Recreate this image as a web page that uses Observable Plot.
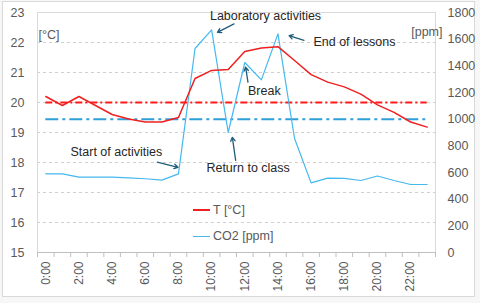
<!DOCTYPE html>
<html>
<head>
<meta charset="utf-8">
<script src="https://cdn.jsdelivr.net/npm/d3@7"></script>
<script src="https://cdn.jsdelivr.net/npm/@observablehq/plot@0.6"></script>
<style>
  html, body { margin: 0; padding: 0; background: #f7f7f7; }
  #wrap { position: relative; width: 480px; height: 303px; overflow: hidden; }
  #border { position: absolute; left: 2px; top: 1px; width: 473px; height: 296px; border: 1px solid #d9d9d9; background: #fff; box-sizing: border-box; }
  #chart { position: absolute; left: 0; top: 0; }
  .leg { position: absolute; font: 12.5px "Liberation Sans", Arial, sans-serif; color: #595959; display: flex; align-items: center; }
  .leg span.sw { display: inline-block; width: 17px; height: 0; margin-right: 3px; }
</style>
</head>
<body>
<div id="wrap">
  <div id="border"></div>
  <div id="chart"></div>
  <div class="leg" style="left:193px; top:203px;"><span class="sw" style="border-top:2px solid #f02020"></span>T [°C]</div>
  <div class="leg" style="left:193px; top:229px;"><span class="sw" style="border-top:1.5px solid #45b8ee"></span>CO2 [ppm]</div>
</div>
<script>
// Hours of the day (0:00 ... 23:00)
const hours = d3.range(0, 24);
// Temperature [°C]
const temperature = [20.2, 19.9, 20.2, 19.9, 19.6, 19.45, 19.35, 19.35, 19.5, 20.8, 21.07, 21.1, 21.7, 21.82, 21.86, 21.4, 20.93, 20.68, 20.52, 20.28, 19.92, 19.67, 19.35, 19.18];
// CO2 [ppm]
const co2 = [590, 590, 565, 566, 566, 560, 553, 543, 590, 1530, 1670, 900, 1425, 1295, 1640, 855, 522, 558, 556, 540, 574, 540, 510, 510];
// Thresholds
const tempLimit = 20;     // °C
const co2Limit = 1000;    // ppm
// Axis ticks
const tempTicks = [15, 16, 17, 18, 19, 20, 21, 22, 23];
const co2Ticks = [0, 200, 400, 600, 800, 1000, 1200, 1400, 1600, 1800];
const hourLabelTicks = d3.range(0, 24, 2);
const hourBoundaries = d3.range(-0.5, 24, 1);
// Annotations (hour, °C position)
const annoText = [
  {label: "Laboratory activities", h: 13.25, t: 22.9, anchor: "middle"},
  {label: "End of lessons", h: 16.14, t: 22.01, anchor: "start"},
  {label: "Break", h: 13.18, t: 20.38, anchor: "middle"},
  {label: "Start of activities", h: 1.49, t: 18.34, anchor: "start"},
  {label: "Return to class", h: 12.2, t: 17.81, anchor: "middle"}
];
const annoArrows = [
  {h1: 11.35, t1: 22.62, h2: 10.35, t2: 22.34},
  {h1: 15.57, t1: 22.07, h2: 14.67, t2: 22.23},
  {h1: 12.19, t1: 20.68, h2: 12.05, t2: 21.18},
  {h1: 6.72, t1: 18.01, h2: 7.97, t2: 17.84},
  {h1: 11.45, t1: 18.07, h2: 11.25, t2: 18.84}
];

// map CO2 ppm onto the temperature axis (0..1800 ppm <-> 15..23 °C)
const ppmToT = p => 15 + p * (23 - 15) / 1800;
const tToPpm = t => (t - 15) * 1800 / (23 - 15);

const tData = hours.map((h, i) => ({h, v: temperature[i]}));
const cData = hours.map((h, i) => ({h, v: ppmToT(co2[i])}));

const font = '"Liberation Sans", Arial, sans-serif';

const chart = Plot.plot({
  width: 480,
  height: 303,
  marginLeft: 37,
  marginRight: 45,
  marginTop: 12,
  marginBottom: 51,
  style: {fontFamily: font, fontSize: "12.5px", color: "#595959", background: "transparent", overflow: "visible"},
  x: {domain: [-0.5, 23.5], axis: null},
  y: {domain: [15, 23], axis: null},
  marks: [
    Plot.gridY(tempTicks.slice(1, -1), {stroke: "#d0d0d0", strokeOpacity: 1, strokeDasharray: "3,3"}),
    Plot.frame({stroke: "#d9d9d9"}),
    Plot.axisY(tempTicks, {anchor: "left", tickSize: 0, tickPadding: 13, fontSize: 12.5, fill: "#595959", tickFormat: d => String(d)}),
    Plot.axisY(co2Ticks.map(ppmToT), {anchor: "right", tickSize: 0, tickPadding: 12, fontSize: 12.5, fill: "#595959", tickFormat: d => String(Math.round(tToPpm(d)))}),
    Plot.axisX(hourLabelTicks, {anchor: "bottom", tickSize: 0, tickPadding: 9, tickRotate: -90, fontSize: 12, fill: "#595959", tickFormat: d => d + ":00"}),
    Plot.axisX(hourBoundaries, {anchor: "bottom", tickSize: 5, stroke: "#bfbfbf", tickFormat: () => ""}),
    Plot.ruleY([15], {stroke: "#bfbfbf"}),
    Plot.ruleY([tempLimit], {x1: hours[0], x2: hours[hours.length - 1], stroke: "#ff1a1a", strokeWidth: 2, strokeDasharray: "7,3,2,3"}),
    Plot.ruleY([ppmToT(co2Limit)], {x1: hours[0], x2: hours[hours.length - 1], stroke: "#2f9fd8", strokeWidth: 2, strokeDasharray: "13,4,3,4"}),
    Plot.line(cData, {x: "h", y: "v", stroke: "#45b8ee", strokeWidth: 1.2}),
    Plot.line(tData, {x: "h", y: "v", stroke: "#f02020", strokeWidth: 1.5}),
    Plot.arrow(annoArrows, {x1: "h1", y1: "t1", x2: "h2", y2: "t2", stroke: "#215d7c", strokeWidth: 1.3, headLength: 5}),
    Plot.text(annoText.filter(d => d.anchor === "middle"), {x: "h", y: "t", text: "label", textAnchor: "middle", fill: "#262626", fontSize: 12.5}),
    Plot.text(annoText.filter(d => d.anchor === "start"), {x: "h", y: "t", text: "label", textAnchor: "start", fill: "#262626", fontSize: 12.5}),
    Plot.text(["[°C]"], {frameAnchor: "top-left", dx: 1, dy: 18, textAnchor: "start", fill: "#595959", fontSize: 12.5}),
    Plot.text(["[ppm]"], {frameAnchor: "top-right", dx: 7, dy: 15, textAnchor: "end", fill: "#595959", fontSize: 12.5})
  ]
});
document.getElementById("chart").appendChild(chart);
</script>
</body>
</html>
